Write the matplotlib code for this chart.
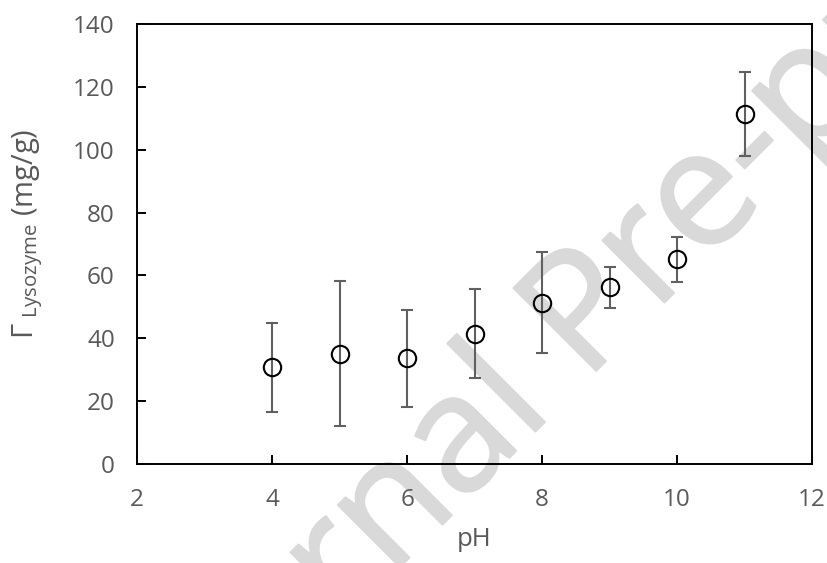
import matplotlib
matplotlib.use("Agg")
import matplotlib.pyplot as plt
import matplotlib.patheffects as pe
import numpy as np
from matplotlib.font_manager import FontProperties
from matplotlib.textpath import TextPath

# Data
ph = [4, 5, 6, 7, 8, 9, 10, 11]
gamma = [30.8, 35.1, 33.6, 41.5, 51.2, 56.2, 65.2, 111.4]
err_upper = [44.8, 58.2, 49.1, 55.6, 67.4, 62.7, 72.3, 124.9]
err_lower = [16.6, 12.1, 18.2, 27.5, 35.3, 49.5, 58.0, 97.9]

xticks = [2, 4, 6, 8, 10, 12]
yticks = [0, 20, 40, 60, 80, 100, 120, 140]

plt.rcParams['font.family'] = ['Open Sans', 'DejaVu Sans']
plt.rcParams['mathtext.fontset'] = 'custom'
plt.rcParams['mathtext.rm'] = 'Open Sans'
plt.rcParams['mathtext.it'] = 'Open Sans'
plt.rcParams['mathtext.bf'] = 'Open Sans'

W, H, DPI = 8.27, 5.63, 100
fig = plt.figure(figsize=(W, H), dpi=DPI)
fig.patch.set_facecolor('white')

# ---- watermark, placed so that the stem of "P" sits where it does in the reference
wm_text = "Journal Pre-proof"
wm_size = 118
wm_angle = 45
wm_color = '#d9d9d9'
fp = FontProperties(family='Open Sans', weight='normal', size=wm_size)
def _ext(s):
    v = TextPath((0, 0), s, size=wm_size, prop=fp).vertices
    return v[:, 0].min(), v[:, 0].max()
full_min, _ = _ext(wm_text)
_, jp_max = _ext("Journal P")
p_min, p_max = _ext("P")
p_stem = jp_max - p_max + p_min + 0.05 * wm_size
d_px = (p_stem - full_min) * DPI / 72.0
target = np.array([600.0, 367.0])  # pixel position (from top-left) of P stem foot
a = np.deg2rad(wm_angle)
anchor = target - d_px * np.array([np.cos(a), -np.sin(a)])
fig.text(anchor[0] / (W * DPI), 1 - anchor[1] / (H * DPI), wm_text,
         fontproperties=fp, color=wm_color, rotation=wm_angle,
         rotation_mode='anchor', ha='left', va='baseline', zorder=-5,
         path_effects=[pe.withStroke(linewidth=1.5, foreground=wm_color)])

ax = fig.add_axes([0.1657, 0.176, 0.8163, 0.781])
ax.set_zorder(1)
ax.patch.set_alpha(0)

g = np.array(gamma)
yerr = [g - np.array(err_lower), np.array(err_upper) - g]
ax.errorbar(ph, gamma, yerr=yerr, fmt='none', ecolor='#606060', elinewidth=1.5,
            capsize=4.5, capthick=1.5, zorder=2)
ax.plot(ph, gamma, linestyle='none', marker='o', markersize=12.5,
        markerfacecolor='none', markeredgecolor='black', markeredgewidth=1.5, zorder=3)

ax.set_xlim(2, 12)
ax.set_ylim(0, 140)
ax.set_xticks(xticks)
ax.set_yticks(yticks)
ax.tick_params(direction='in', length=6.5, width=1.4, colors='black',
               labelcolor='#595959', labelsize=17.5)
ax.tick_params(axis='x', pad=17)
ax.tick_params(axis='y', pad=16)
for s in ax.spines.values():
    s.set_linewidth(1.4)
    s.set_color('black')

ax.set_xlabel('pH', fontsize=18.5, color='#595959', labelpad=11)
fig.text(0.033, 0.585, r'$\Gamma_{\ \mathrm{Lysozyme}}$ (mg/g)', fontsize=21,
         color='#595959', rotation=90, ha='center', va='center')

fig.savefig('out.png', dpi=DPI, facecolor='white')
